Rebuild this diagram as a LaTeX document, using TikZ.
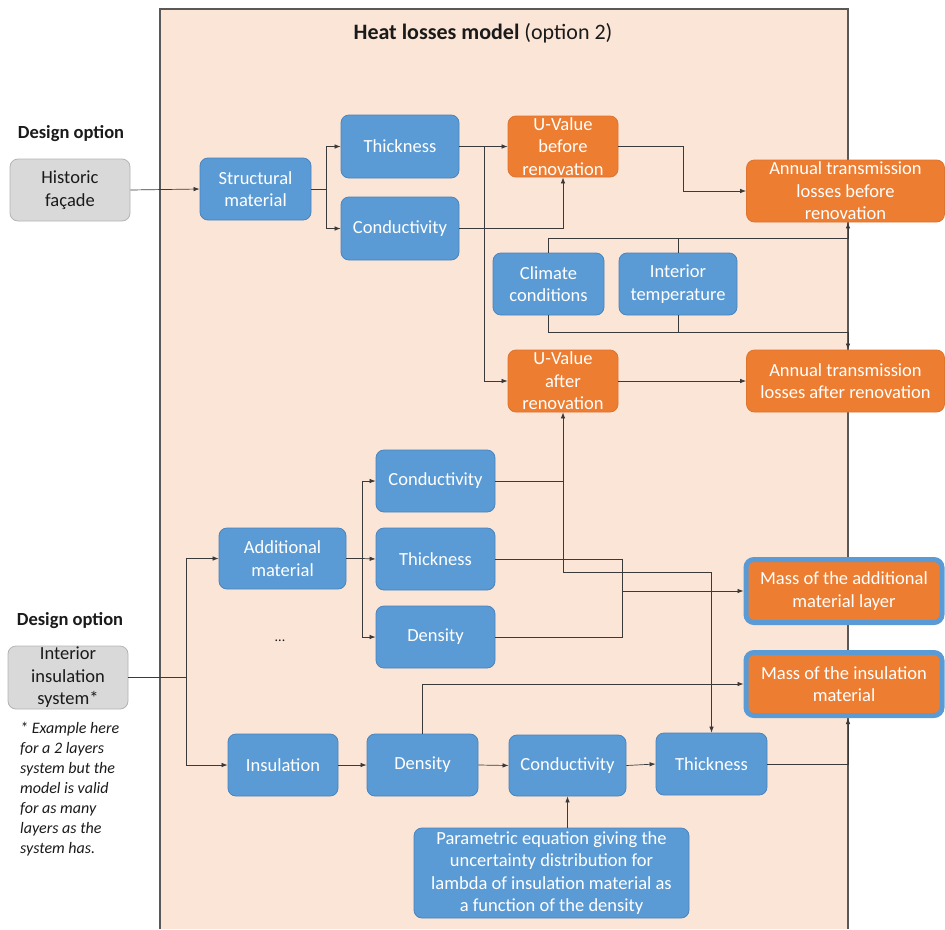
\documentclass[tikz,border=0pt]{standalone}
\usepackage{fontspec}
\setmainfont{Carlito}
\usetikzlibrary{arrows.meta}
\definecolor{panelfill}{HTML}{FBE5D6}
\definecolor{panelline}{HTML}{595959}
\definecolor{bluefill}{HTML}{5B9BD5}
\definecolor{blueline}{HTML}{4A84BE}
\definecolor{orangefill}{HTML}{ED7D31}
\definecolor{orangeline}{HTML}{DD7430}
\definecolor{grayfill}{HTML}{D9D9D9}
\definecolor{grayline}{HTML}{B4B4B4}
\definecolor{wirecol}{HTML}{3A3A3A}
\definecolor{ink}{HTML}{1A1A1A}

\begin{document}
\begin{tikzpicture}[x=1pt,y=-1pt,
  base/.style={rounded corners=8pt, align=center, inner sep=1pt,
    font=\fontsize{18.5}{22.5}\selectfont, line width=0.8pt},
  bluebox/.style={base, fill=bluefill, draw=blueline, text=white},
  orangebox/.style={base, fill=orangefill, draw=orangeline, text=white},
  massbox/.style={base, fill=orangefill, draw=bluefill, line width=5pt, text=white},
  graybox/.style={base, fill=grayfill, draw=grayline, text=ink},
  sz/.style 2 args={minimum width=#1pt, minimum height=#2pt},
  heading/.style={font=\fontsize{18.5}{22.5}\selectfont\bfseries, text=ink},
  wire/.style={draw=wirecol, line width=0.7pt},
  arr/.style={wire, -{Latex[length=6pt,width=4.5pt]}},
]
\useasboundingbox (0,0) rectangle (945,929);

% model panel (open at the bottom edge)
\fill[panelfill] (160,9) rectangle (848,929);
\draw[panelline, line width=1.2pt] (160,929) -- (160,9) -- (848,9) -- (848,929);

\node[text=ink] (title) at (483,33)
  {\fontsize{22}{26}\selectfont\textbf{Heat losses model} (option 2)};

% design options
\node[heading] (opt1) at (71,134) {Design option};
\node[graybox, sz={120}{62}] (hist) at (70,190) {Historic\\façade};
\node[heading] (opt2) at (70,621) {Design option};
\node[graybox, sz={120}{63}] (iis) at (68,677.5) {Interior\\insulation\\system*};
\node[anchor=north west, align=left, inner sep=0pt, text=ink,
      font=\fontsize{16}{20}\selectfont\itshape] (note) at (20,722)
  {* Example here\\for a 2 layers\\system but the\\model is valid\\for as many\\layers as the\\system has.};

% existing wall
\node[bluebox, sz={111}{62}] (struct) at (255.5,189) {Structural\\material};
\node[bluebox, sz={118}{63}] (thick1) at (400,146.5) {Thickness};
\node[bluebox, sz={118}{63}] (cond1) at (400,228.5) {Conductivity};
\node[orangebox, sz={110}{61}] (ubef) at (563,146.5) {U-Value\\before\\renovation};
\node[orangebox, sz={198}{62}] (abef) at (845.5,191) {Annual transmission\\losses before\\renovation};
\node[bluebox, sz={111}{62}] (clim) at (548.5,284) {Climate\\conditions};
\node[bluebox, sz={118}{62}] (intt) at (678,284) {Interior\\temperature};
\node[orangebox, sz={110}{62}] (uaft) at (563,381) {U-Value\\after\\renovation};
\node[orangebox, sz={198}{62}] (aaft) at (845.5,381) {Annual transmission\\losses after renovation};

% additional layer
\node[bluebox, sz={127}{61}] (addm) at (282.5,558.5) {Additional\\material};
\node[bluebox, sz={119}{62}] (cond2) at (435.5,481) {Conductivity};
\node[bluebox, sz={119}{62}] (thick2) at (435.5,559) {Thickness};
\node[bluebox, sz={119}{62}] (dens2) at (435.5,637) {Density};
\node[text=ink, font=\fontsize{14}{16}\selectfont] (dots) at (280,641) {...};
\node[massbox, sz={196}{63}] (massa) at (844,591) {Mass of the additional\\material layer};
\node[massbox, sz={196}{63}] (massi) at (844,684) {Mass of the insulation\\material};

% insulation layer
\node[bluebox, sz={110}{62}] (insul) at (283,765) {Insulation};
\node[bluebox, sz={111}{62}] (dens3) at (422.5,765) {Density};
\node[bluebox, sz={117}{61}] (cond3) at (567.5,765.5) {Conductivity};
\node[bluebox, sz={111}{62}] (thick3) at (711.5,764) {Thickness};
\node[bluebox, sz={275}{90}] (param) at (551.5,873)
  {Parametric equation giving the\\uncertainty distribution for\\lambda of insulation material as\\a function of the density};

% junctions
\coordinate (jstruct) at (326,189);
\coordinate (jthick) at (484,146.5);
\coordinate (jup) at (848,238);
\coordinate (jdown) at (848,332.5);
\coordinate (jcond) at (563,572.5);
\coordinate (jmass) at (622,591);
\coordinate (jiis) at (186,677.5);
\coordinate (jadd) at (362,558.5);

% connectors: existing wall
\draw[arr] (hist.east) -- (struct.west);
\draw[wire] (struct.east) -- (jstruct);
\draw[arr] (jstruct) |- (thick1.west);
\draw[arr] (jstruct) |- (cond1.west);
\draw[arr] (thick1.east) -- (ubef.west);
\draw[arr] (jthick) |- (uaft.west);
\draw[arr] (cond1.east) -| (ubef.south);
\draw[arr] (ubef.east) -- (683,146.5) |- (abef.west);
\draw[arr] (clim.north) |- (jup) -- (jup |- abef.south);
\draw[wire] (intt.north) -- (intt.north |- jup);
\draw[arr] (clim.south) |- (jdown) -- (jdown |- aaft.north);
\draw[wire] (intt.south) -- (intt.south |- jdown);
\draw[arr] (uaft.east) -- (aaft.west);

% connectors: additional layer
\draw[wire] (iis.east) -- (jiis);
\draw[arr] (jiis) |- (addm.west);
\draw[arr] (jiis) |- (insul.west);
\draw[wire] (addm.east) -- (jadd);
\draw[arr] (jadd) |- (cond2.west);
\draw[arr] (jadd) -- (thick2.west);
\draw[arr] (jadd) |- (dens2.west);
\draw[arr] (cond2.east) -| (uaft.south);
\draw[arr] (cond2.east -| jcond) -- (jcond) -| (thick3.north);
\draw[wire] (thick2.east) -| (jmass |- dens2.east) -- (dens2.east);
\draw[arr] (jmass) -- (massa.west);

% connectors: insulation layer
\draw[arr] (insul.east) -- (dens3.west);
\draw[arr] (dens3.east) -- (cond3.west);
\draw[arr] (cond3.east) -- (thick3.west);
\draw[arr] (dens3.north) |- (massi.west);
\draw[arr] (cond3.south |- param.north) -- (cond3.south);
\draw[arr] (thick3.east) -| ([xshift=4pt]massi.south);
\end{tikzpicture}
\end{document}
